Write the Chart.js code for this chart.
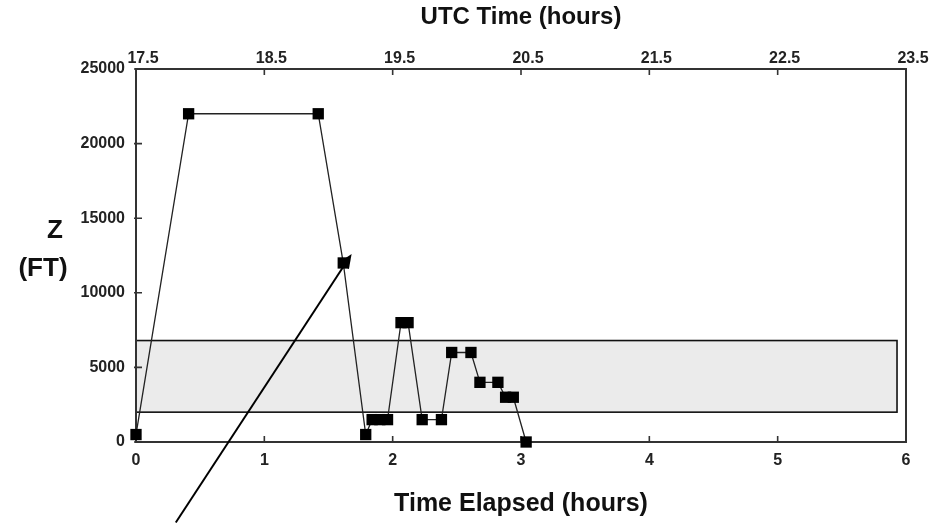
<!DOCTYPE html>
<html>
<head>
<meta charset="utf-8">
<script src="https://cdn.jsdelivr.net/npm/chart.js@4.4.1/dist/chart.umd.min.js"></script>
<style>
  html, body { margin: 0; padding: 0; background: #fff; }
  #wrap { width: 950px; height: 525px; position: relative; }
</style>
</head>
<body>
<div id="wrap"><canvas id="altChart"></canvas></div>
<script>
// valores
var elapsedHours = [0, 0.41, 1.42, 1.615, 1.79, 1.84, 1.90, 1.96, 2.065, 2.12, 2.23, 2.38, 2.46, 2.61, 2.68, 2.82, 2.88, 2.94, 3.04];
var altitudeFt   = [500, 22000, 22000, 12000, 500, 1500, 1500, 1500, 8000, 8000, 1500, 1500, 6000, 6000, 4000, 4000, 3000, 3000, 0];

var elapsedTicks = [0, 1, 2, 3, 4, 5, 6];
var utcTicks = [17.5, 18.5, 19.5, 20.5, 21.5, 22.5, 23.5];
var altitudeTicks = [0, 5000, 10000, 15000, 20000, 25000];

// banda gris (horas transcurridas / pies)
var bandHours = [0, 5.93];
var bandFt = [2000, 6800];

// flecha: desde abajo hasta el punto de 12000 ft
var arrowFrom = { x: 0.31, y: -5400 };
var arrowTo = { x: 1.68, y: 12600 };

var puntos = [];
for (var i = 0; i < elapsedHours.length; i++) {
    puntos.push({ x: elapsedHours[i], y: altitudeFt[i] });
}

var tickFont = { family: "'Liberation Sans', Arial, sans-serif", size: 16, weight: 'bold' };
var titleFont = { family: "'Liberation Sans', Arial, sans-serif", size: 24, weight: 'bold' };

var decoraciones = {
    id: 'decoraciones',
    beforeDatasetsDraw: function(chart) {
        var ctx = chart.ctx;
        var xs = chart.scales.x, ys = chart.scales.y, x2 = chart.scales.x2;
        var area = chart.chartArea;

        // banda
        var bx0 = xs.getPixelForValue(bandHours[0]);
        var bx1 = xs.getPixelForValue(bandHours[1]);
        var by0 = ys.getPixelForValue(bandFt[1]);
        var by1 = ys.getPixelForValue(bandFt[0]);
        ctx.save();
        ctx.fillStyle = '#ebebeb';
        ctx.fillRect(bx0, by0, bx1 - bx0, by1 - by0);
        ctx.strokeStyle = '#111';
        ctx.lineWidth = 1.6;
        ctx.strokeRect(bx0, by0, bx1 - bx0, by1 - by0);

        // marco
        ctx.strokeStyle = '#333';
        ctx.lineWidth = 2;
        ctx.strokeRect(area.left, area.top, area.right - area.left, area.bottom - area.top);

        // marcas hacia adentro
        ctx.lineWidth = 1.6;
        ctx.beginPath();
        elapsedTicks.forEach(function(t) {
            var px = xs.getPixelForValue(t);
            ctx.moveTo(px, area.bottom);
            ctx.lineTo(px, area.bottom - 6);
        });
        utcTicks.forEach(function(t) {
            var px = x2.getPixelForValue(t);
            ctx.moveTo(px, area.top);
            ctx.lineTo(px, area.top + 6);
        });
        altitudeTicks.forEach(function(t) {
            var py = ys.getPixelForValue(t);
            ctx.moveTo(area.left - 2, py);
            ctx.lineTo(area.left + 6, py);
        });
        ctx.stroke();
        ctx.restore();
    },
    afterDraw: function(chart) {
        var ctx = chart.ctx;
        var xs = chart.scales.x, ys = chart.scales.y;

        // flecha
        var ax0 = xs.getPixelForValue(arrowFrom.x), ay0 = ys.getPixelForValue(arrowFrom.y);
        var ax1 = xs.getPixelForValue(arrowTo.x), ay1 = ys.getPixelForValue(arrowTo.y);
        var ang = Math.atan2(ay1 - ay0, ax1 - ax0);
        ctx.save();
        ctx.strokeStyle = '#000';
        ctx.lineWidth = 2;
        ctx.beginPath();
        ctx.moveTo(ax0, ay0);
        ctx.lineTo(ax1 - 8 * Math.cos(ang), ay1 - 8 * Math.sin(ang));
        ctx.stroke();
        ctx.fillStyle = '#000';
        ctx.beginPath();
        ctx.moveTo(ax1, ay1);
        ctx.lineTo(ax1 - 14 * Math.cos(ang) + 6 * Math.sin(ang), ay1 - 14 * Math.sin(ang) - 6 * Math.cos(ang));
        ctx.lineTo(ax1 - 14 * Math.cos(ang) - 6 * Math.sin(ang), ay1 - 14 * Math.sin(ang) + 6 * Math.cos(ang));
        ctx.closePath();
        ctx.fill();

        // titulo del eje Y (horizontal, dos lineas)
        ctx.fillStyle = '#111';
        ctx.font = "bold 26px 'Liberation Sans', Arial, sans-serif";
        ctx.textAlign = 'center';
        ctx.textBaseline = 'middle';
        ctx.fillText('Z', 55, 231);
        ctx.fillText('(FT)', 43, 269);
        ctx.restore();
    }
};

var grafico = new Chart(document.getElementById('altChart'), {
    type: 'line',
    data: {
        datasets: [{
            data: puntos,
            borderColor: '#222',
            borderWidth: 1.3,
            pointStyle: 'rect',
            pointRadius: 8,
            pointHoverRadius: 8,
            pointBackgroundColor: '#000',
            pointBorderColor: '#000',
            pointBorderWidth: 0,
            tension: 0,
            clip: false
        }]
    },
    options: {
        responsive: true,
        maintainAspectRatio: false,
        animation: false,
        layout: { padding: { left: 0, right: 44, top: 0, bottom: 0 } },
        plugins: {
            legend: { display: false },
            tooltip: { enabled: false }
        },
        scales: {
            x: {
                type: 'linear',
                position: 'bottom',
                min: 0,
                max: 6,
                afterBuildTicks: function(scale) {
                    scale.ticks = elapsedTicks.map(function(v) { return { value: v }; });
                },
                afterFit: function(scale) { scale.height = 83; },
                grid: { display: false, drawTicks: false },
                border: { display: false },
                ticks: { color: '#222', font: tickFont, padding: 9, maxRotation: 0 },
                title: { display: true, text: 'Time Elapsed (hours)', color: '#111', font: { family: titleFont.family, size: 25, weight: 'bold' }, padding: { top: 0, bottom: 6 } }
            },
            x2: {
                type: 'linear',
                position: 'top',
                min: 17.5,
                max: 23.5,
                afterBuildTicks: function(scale) {
                    scale.ticks = utcTicks.map(function(v) { return { value: v }; });
                },
                afterFit: function(scale) { scale.height = 69; },
                grid: { display: false, drawTicks: false },
                border: { display: false },
                ticks: {
                    color: '#222', font: tickFont, padding: 1, maxRotation: 0, labelOffset: 7,
                    callback: function(v) { return v.toFixed(1); }
                },
                title: { display: true, text: 'UTC Time (hours)', color: '#111', font: titleFont, padding: { top: 3, bottom: 0 } }
            },
            y: {
                type: 'linear',
                min: 0,
                max: 25000,
                afterBuildTicks: function(scale) {
                    scale.ticks = altitudeTicks.map(function(v) { return { value: v }; });
                },
                afterFit: function(scale) { scale.width = 136; },
                grid: { display: false, drawTicks: false },
                border: { display: false },
                ticks: { color: '#222', font: tickFont, padding: 11, callback: function(v) { return String(v); } }
            }
        }
    },
    plugins: [decoraciones]
});
</script>
</body>
</html>
